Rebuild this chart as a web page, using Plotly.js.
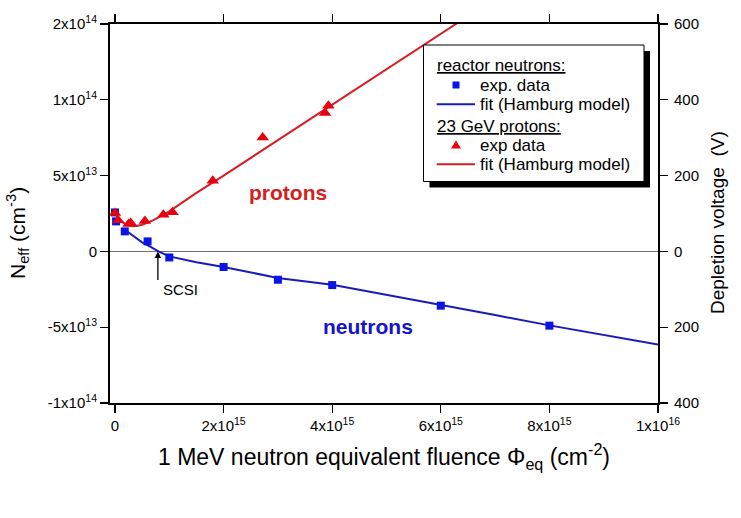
<!DOCTYPE html>
<html>
<head>
<meta charset="utf-8">
<script src="https://cdn.plot.ly/plotly-3.0.1.min.js"></script>
<style>html,body{margin:0;padding:0;background:#fff}#chart{width:741px;height:518px}</style>
</head>
<body>
<div id="chart"></div>
<script>
// ---- data ----
const neutronX = [0, 0.02e15, 0.18e15, 0.6e15, 1.0e15, 2e15, 3e15, 4e15, 6e15, 8e15];
const neutronY = [2.57e13, 1.98e13, 1.32e13, 0.66e13, -0.4e13, -1.03e13, -1.87e13, -2.22e13, -3.58e13, -4.9e13];
const neutronFitX = [0.18e15, 0.34e15, 0.5e15, 0.64e15, 0.8e15, 1.0e15, 1.5e15, 2e15, 3e15, 4e15, 5e15, 6e15, 7e15, 8e15, 9e15, 10e15];
const neutronFitY = [1.43e13, 0.99e13, 0.6e13, 0.33e13, 0.0, -0.33e13, -0.72e13, -1.03e13, -1.75e13, -2.2e13, -2.85e13, -3.55e13, -4.2e13, -4.88e13, -5.5e13, -6.15e13];
const protonX = [0, 0.06e15, 0.25e15, 0.29e15, 0.55e15, 0.89e15, 1.06e15, 1.8e15, 2.72e15, 3.87e15, 3.93e15];
const protonY = [2.53e13, 2.06e13, 1.81e13, 1.87e13, 2.01e13, 2.42e13, 2.59e13, 4.66e13, 7.52e13, 9.13e13, 9.61e13];
const protonFitX = [0, 0.1e15, 0.2e15, 0.3e15, 0.4e15, 0.5e15, 0.7e15, 1.0e15, 1.5e15, 2e15, 3e15, 4e15, 5e15, 6.3e15];
const protonFitY = [2.5e13, 2.02e13, 1.78e13, 1.68e13, 1.67e13, 1.76e13, 2.05e13, 2.64e13, 3.86e13, 5.0e13, 7.34e13, 9.68e13, 12.0e13, 15.05e13];

const xTickVals = [0, 2e15, 4e15, 6e15, 8e15, 1e16];
const xTickText = ['0', '2x10<sup>15</sup>', '4x10<sup>15</sup>', '6x10<sup>15</sup>', '8x10<sup>15</sup>', '1x10<sup>16</sup>'];
const yTickVals = [-1e14, -5e13, 0, 5e13, 1e14, 1.5e14];
const yTickText = ['-1x10<sup>14</sup>', '-5x10<sup>13</sup>', '0', '5x10<sup>13</sup>', '1x10<sup>14</sup>', '2x10<sup>14</sup>'];
const vTickVals = [-400, -200, 0, 200, 400, 600];
const vTickText = ['400', '200', '0', '200', '400', '600'];

// ---- geometry ----
const W = 741, H = 518, ML = 110, MR = 83, MT = 24, MB = 115;
const PW = W - ML - MR, PH = H - MT - MB;
const PX = p => (p - ML) / PW;
const PY = p => (H - MB - p) / PH;

const FONT = 'Liberation Sans, Arial, sans-serif';
const BLUE = '#0a14e6', BLUE_LINE = '#1a1ab8', RED = '#e8000f', RED_LINE = '#d81c24';

const traces = [
  {x: neutronFitX, y: neutronFitY, mode: 'lines', line: {color: BLUE_LINE, width: 2}, showlegend: false, hoverinfo: 'skip'},
  {x: protonFitX, y: protonFitY, mode: 'lines', line: {color: RED_LINE, width: 2}, showlegend: false, hoverinfo: 'skip'},
  {x: neutronX, y: neutronY, mode: 'markers', marker: {symbol: 'square', size: 8, color: BLUE}, showlegend: false},
  {x: protonX, y: protonY, mode: 'markers', marker: {symbol: 'triangle-up', size: 11, color: RED}, showlegend: false},
  {x: [null], y: [null], yaxis: 'y2', mode: 'markers', showlegend: false, hoverinfo: 'skip'}
];

// legend geometry (pixels)
const box = {x0: 423.5, x1: 644, y0: 45, y1: 181.5};
const sh = 6;
const legX = 436.7, symX = 456, txtX = 480, lineEnd = 475;
const rows = [65.7, 85, 104.3, 126, 145, 164.3];

const shapes = [
  {type: 'rect', xref: 'paper', yref: 'paper', x0: PX(box.x0 + sh), x1: PX(box.x1 + sh), y0: PY(box.y0 + sh), y1: PY(box.y1 + sh), fillcolor: '#000', line: {width: 0}, layer: 'above'},
  {type: 'rect', xref: 'paper', yref: 'paper', x0: PX(box.x0), x1: PX(box.x1), y0: PY(box.y0), y1: PY(box.y1), fillcolor: '#fff', line: {color: '#000', width: 1}, layer: 'above'},
  {type: 'rect', xref: 'paper', yref: 'paper', x0: PX(symX - 3.5), x1: PX(symX + 3.5), y0: PY(rows[1] - 3.5), y1: PY(rows[1] + 3.5), fillcolor: BLUE, line: {width: 0}, layer: 'above'},
  {type: 'line', xref: 'paper', yref: 'paper', x0: PX(legX), x1: PX(lineEnd), y0: PY(rows[2]), y1: PY(rows[2]), line: {color: BLUE_LINE, width: 2}, layer: 'above'},
  {type: 'path', xref: 'paper', yref: 'paper', path: 'M ' + PX(symX - 5) + ' ' + PY(rows[4] + 3.5) + ' L ' + PX(symX + 5) + ' ' + PY(rows[4] + 3.5) + ' L ' + PX(symX) + ' ' + PY(rows[4] - 4.5) + ' Z', fillcolor: RED, line: {width: 0}, layer: 'above'},
  {type: 'line', xref: 'paper', yref: 'paper', x0: PX(legX), x1: PX(lineEnd), y0: PY(rows[5]), y1: PY(rows[5]), line: {color: RED_LINE, width: 2}, layer: 'above'}
];

const legFont = {family: FONT, size: 17, color: '#000'};
const legAnn = (txt, px, py) => ({text: txt, xref: 'paper', yref: 'paper', x: PX(px), y: PY(py), xanchor: 'left', yanchor: 'middle', showarrow: false, font: legFont});

const annotations = [
  legAnn('<u>reactor neutrons:</u>', legX - 2, rows[0]),
  legAnn('exp. data', txtX - 2, rows[1]),
  legAnn('fit (Hamburg model)', txtX - 2, rows[2]),
  legAnn('<u>23 GeV protons:</u>', legX - 2, rows[3]),
  legAnn('exp data', txtX - 2, rows[4]),
  legAnn('fit (Hamburg model)', txtX - 2, rows[5]),
  {text: '<b>protons</b>', x: 3.19e15, y: 3.89e13, xref: 'x', yref: 'y', showarrow: false, font: {family: FONT, size: 21, color: '#d42020'}},
  {text: '<b>neutrons</b>', x: 4.66e15, y: -4.97e13, xref: 'x', yref: 'y', showarrow: false, font: {family: FONT, size: 21, color: '#1414c8'}},
  {text: '', x: 0.79e15, y: 0, xref: 'x', yref: 'y', showarrow: true, ax: 0, ay: 30, arrowhead: 2, arrowsize: 1, arrowwidth: 1.3, arrowcolor: '#000'},
  {text: 'SCSI', x: 1.21e15, y: -2.53e13, xref: 'x', yref: 'y', showarrow: false, font: {family: FONT, size: 15, color: '#000'}},
  {text: 'N<sub>eff</sub> (cm<sup>-3</sup>)', xref: 'paper', yref: 'paper', x: PX(17), y: PY(233), xanchor: 'center', yanchor: 'middle', textangle: -90, showarrow: false, font: {family: FONT, size: 21, color: '#000'}},
  {text: 'Depletion voltage\u00a0 (V)', xref: 'paper', yref: 'paper', x: PX(717), y: PY(223), xanchor: 'center', yanchor: 'middle', textangle: -90, showarrow: false, font: {family: FONT, size: 19, color: '#000'}}
];

const tickFont = {family: FONT, size: 15, color: '#000'};
const layout = {
  width: W, height: H,
  margin: {l: ML, r: MR, t: MT, b: MB, pad: 0},
  paper_bgcolor: '#fff', plot_bgcolor: '#fff',
  showlegend: false,
  font: {family: FONT, color: '#000'},
  xaxis: {
    range: [-0.092e15, 1e16], tickmode: 'array', tickvals: xTickVals, ticktext: xTickText,
    showline: true, linecolor: '#000', linewidth: 2, mirror: 'ticks',
    ticks: 'outside', ticklen: 8, tickwidth: 1.3, tickcolor: '#000',
    showgrid: false, zeroline: false, tickfont: tickFont,
    title: {text: '1 MeV neutron equivalent fluence \u03a6<sub>eq</sub> (cm<sup>-2</sup>)', font: {family: FONT, size: 23, color: '#000'}, standoff: 16}
  },
  yaxis: {
    range: [-1e14, 1.5e14], tickmode: 'array', tickvals: yTickVals, ticktext: yTickText,
    showline: true, linecolor: '#000', linewidth: 2,
    ticks: 'outside', ticklen: 8, tickwidth: 1.3, tickcolor: '#000',
    showgrid: false, zeroline: true, zerolinecolor: '#707070', zerolinewidth: 1, tickfont: tickFont
  },
  yaxis2: {
    overlaying: 'y', side: 'right', range: [-400, 600], tickmode: 'array', tickvals: vTickVals, ticktext: vTickText,
    showline: true, linecolor: '#000', linewidth: 2,
    ticks: 'outside', ticklen: 8, tickwidth: 1.3, tickcolor: '#000',
    showgrid: false, zeroline: false, tickfont: tickFont, ticklabelstandoff: 3
  },
  shapes: shapes,
  annotations: annotations
};

Plotly.newPlot('chart', traces, layout, {displayModeBar: false, staticPlot: true});
</script>
</body>
</html>
